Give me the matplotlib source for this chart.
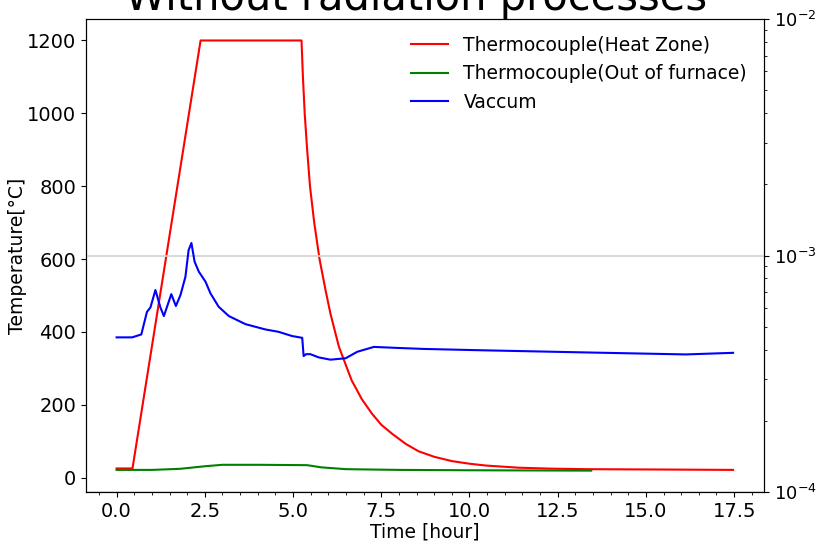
import matplotlib
matplotlib.use("Agg")
import matplotlib.pyplot as plt
from matplotlib.ticker import AutoMinorLocator

# Heat zone thermocouple (hour, °C)
heat_t = [0.0, 0.45, 2.38, 5.24, 5.28, 5.33, 5.40, 5.48, 5.60, 5.75, 5.92, 6.06, 6.30,
          6.66, 6.95, 7.24, 7.50, 7.81, 8.20, 8.56, 9.00, 9.51, 10.0, 10.46, 11.40,
          12.30, 13.29, 15.5, 17.47]
heat_T = [25, 25, 1200, 1200, 1100, 1000, 900, 800, 700, 600, 515, 450, 359,
          267, 215, 175, 145, 120, 92, 72, 57, 45, 38, 33, 27,
          24.5, 23, 22, 21]

# Out-of-furnace thermocouple
out_t = [0.0, 1.0, 1.8, 2.5, 3.0, 4.0, 5.4, 5.8, 6.5, 8.0, 10.0, 13.45]
out_T = [21, 21, 24, 31, 35, 35, 34, 28, 23, 21, 20, 19]

# Vacuum pressure
vac_t = [0.0, 0.44, 0.70, 0.86, 0.96, 1.10, 1.24, 1.34, 1.55, 1.68, 1.81, 1.95, 2.04,
         2.12, 2.21, 2.33, 2.52, 2.66, 2.89, 3.18, 3.65, 4.22, 4.59, 4.97, 5.26, 5.30,
         5.37, 5.49, 5.73, 6.06, 6.49, 6.82, 7.29, 7.95, 8.71, 10.27, 13.1, 16.13, 17.47]
vac_p = [4.51e-4, 4.51e-4, 4.64e-4, 5.78e-4, 6.04e-4, 7.15e-4, 6.04e-4, 5.55e-4, 6.87e-4,
         6.12e-4, 6.81e-4, 8.13e-4, 1.054e-3, 1.13e-3, 9.42e-4, 8.55e-4, 7.75e-4, 6.92e-4,
         6.08e-4, 5.55e-4, 5.13e-4, 4.87e-4, 4.76e-4, 4.57e-4, 4.49e-4, 3.76e-4, 3.83e-4,
         3.83e-4, 3.71e-4, 3.63e-4, 3.68e-4, 3.92e-4, 4.11e-4, 4.07e-4, 4.03e-4, 3.98e-4,
         3.90e-4, 3.82e-4, 3.88e-4]

fig = plt.figure(figsize=(8.17, 5.42), dpi=100)
fig.subplots_adjust(left=0.105, right=0.935, top=0.965, bottom=0.092)
ax1 = fig.add_subplot(111)
ax2 = ax1.twinx()

l1, = ax1.plot(heat_t, heat_T, color='red', lw=1.5, label='Thermocouple(Heat Zone)')
l2, = ax1.plot(out_t, out_T, color='green', lw=1.5, label='Thermocouple(Out of furnace)')
l3, = ax2.plot(vac_t, vac_p, color='blue', lw=1.5, label='Vaccum')

ax2.set_yscale('log')
ax2.set_ylim(1e-4, 1e-2)
ax2.grid(True, which='major', color='lightgray', lw=1.2)
ax1.xaxis.set_minor_locator(AutoMinorLocator())

ax1.set_xlabel('Time [hour]', fontsize=13.5, labelpad=1)
ax1.set_ylabel('Temperature[°C]', fontsize=13.5, labelpad=0)
ax1.tick_params(labelsize=14)
ax2.tick_params(labelsize=13)
ax1.set_title('Without radiation processes', fontsize=30, x=0.487)

ax2.legend(handles=[l1, l2, l3], loc='upper right', frameon=False, fontsize=13.5)

fig.savefig('out.png', dpi=100)
